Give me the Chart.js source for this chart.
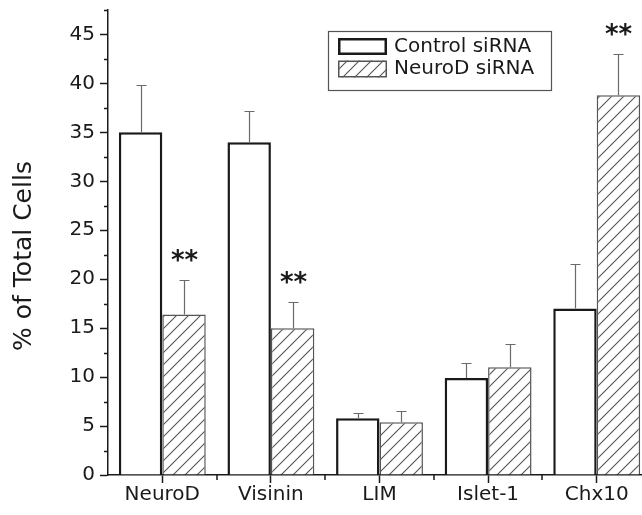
<!DOCTYPE html>
<html>
<head>
<meta charset="utf-8">
<script src="https://cdn.jsdelivr.net/npm/chart.js@4.4.0/dist/chart.umd.min.js"></script>
<style>
html,body{margin:0;padding:0;overflow:hidden;background:#fff;width:642px;height:515px;}
canvas{display:block;}
</style>
</head>
<body>
<canvas id="c" width="651" height="515"></canvas>
<script>
// ---- data ----
const categories = ['NeuroD', 'Visinin', 'LIM', 'Islet-1', 'Chx10'];
const seriesNames = ['Control siRNA', 'NeuroD siRNA'];
const controlValues = [35.0, 34.0, 5.8, 9.9, 17.0];
const controlErrors = [4.8, 3.2, 0.5, 1.5, 4.6];
const neurodValues = [16.4, 15.0, 5.4, 11.0, 38.8];
const neurodErrors = [3.5, 2.7, 1.1, 2.4, 4.2];
const neurodMarks = ['**', '**', '', '', '**'];
const yMin = 0, yMax = 47.5, yStep = 5;
const yTitle = '% of Total Cells';

const INK = '#1a1a1a';
const FONT = '"DejaVu Sans", sans-serif';

// hatch pattern
function makeHatch() {
  const n = 12;
  const t = document.createElement('canvas');
  t.width = n; t.height = n;
  const g = t.getContext('2d');
  g.fillStyle = '#fff'; g.fillRect(0, 0, n, n);
  g.strokeStyle = '#555'; g.lineWidth = 1.1;
  g.beginPath();
  g.moveTo(0, n); g.lineTo(n, 0);
  g.moveTo(-n / 2, n / 2); g.lineTo(n / 2, -n / 2);
  g.moveTo(n / 2, n * 1.5); g.lineTo(n * 1.5, n / 2);
  g.stroke();
  return document.getElementById('c').getContext('2d').createPattern(t, 'repeat');
}
const hatch = makeHatch();

const errorArrays = [controlErrors, neurodErrors];
const markArrays = [null, neurodMarks];

const decorPlugin = {
  id: 'decor',
  afterDatasetsDraw(chart) {
    const ctx = chart.ctx;
    const y = chart.scales.y;
    ctx.save();
    chart.data.datasets.forEach((ds, di) => {
      const meta = chart.getDatasetMeta(di);
      meta.data.forEach((bar, i) => {
        const v = ds.data[i], e = errorArrays[di][i];
        const top = y.getPixelForValue(v);
        const et = Math.round(y.getPixelForValue(v + e)) + 0.5;
        const bx = Math.round(bar.x) + 0.5;
        ctx.strokeStyle = '#6a6a6a'; ctx.lineWidth = 1.2;
        ctx.beginPath();
        ctx.moveTo(bx, top); ctx.lineTo(bx, et);
        ctx.moveTo(bx - 5, et); ctx.lineTo(bx + 5, et);
        ctx.stroke();
        const marks = markArrays[di];
        if (marks && marks[i]) {
          ctx.fillStyle = INK;
          ctx.font = 'bold 26px ' + FONT;
          ctx.textAlign = 'center';
          ctx.textBaseline = 'alphabetic';
          ctx.fillText(marks[i], bx, et - 12);
        }
      });
    });
    ctx.restore();
  },
  afterDraw(chart) {
    const ctx = chart.ctx;
    const y = chart.scales.y, x = chart.scales.x;
    const a = chart.chartArea;
    ctx.save();
    ctx.strokeStyle = INK; ctx.lineWidth = 1.5;
    // minor y ticks
    ctx.beginPath();
    for (let v = yMin + yStep / 2; v <= yMax + 1e-6; v += yStep) {
      const py = Math.round(y.getPixelForValue(v)) + 0.5;
      ctx.moveTo(a.left - 4, py); ctx.lineTo(a.left, py);
    }
    // minor x ticks between categories
    for (let i = 0; i < categories.length; i++) {
      const p0 = x.getPixelForValue(i);
      const p1 = i + 1 < categories.length ? x.getPixelForValue(i + 1) : p0 + (p0 - x.getPixelForValue(i - 1));
      const px = Math.round((p0 + p1) / 2);
      ctx.moveTo(px, a.bottom); ctx.lineTo(px, a.bottom + 5);
    }
    ctx.stroke();
    // y title
    ctx.fillStyle = INK;
    ctx.font = '25px ' + FONT;
    ctx.translate(24, 256);
    ctx.rotate(-Math.PI / 2);
    ctx.textAlign = 'center'; ctx.textBaseline = 'middle';
    ctx.fillText(yTitle, 0, 0);
    ctx.restore();

    // legend
    ctx.save();
    ctx.strokeStyle = '#555'; ctx.lineWidth = 1.2;
    ctx.strokeRect(328.5, 31.5, 223, 59);
    chart.data.datasets.forEach((ds, di) => {
      const sy = 38 + di * 22.5;
      ctx.fillStyle = ds.backgroundColor;
      ctx.fillRect(338, sy, 49, 17);
      ctx.strokeStyle = ds.borderColor; ctx.lineWidth = ds.borderWidth;
      const off = ds.borderWidth / 2;
      ctx.strokeRect(338 + off, sy + off, 49 - ds.borderWidth, 17 - ds.borderWidth);
      ctx.fillStyle = INK;
      ctx.font = '20px ' + FONT;
      ctx.textAlign = 'left'; ctx.textBaseline = 'middle';
      ctx.fillText(ds.label, 394, sy + 8.5);
    });
    ctx.restore();
  }
};

new Chart(document.getElementById('c'), {
  type: 'bar',
  data: {
    labels: categories,
    datasets: [
      { label: seriesNames[0], data: controlValues, backgroundColor: '#ffffff', borderColor: INK, borderWidth: 2.5, borderSkipped: 'start' },
      { label: seriesNames[1], data: neurodValues, backgroundColor: hatch, borderColor: '#555', borderWidth: 1.5, borderSkipped: 'start' }
    ]
  },
  options: {
    responsive: false,
    animation: false,
    devicePixelRatio: 1,
    layout: { padding: { top: 10, left: 0, right: 0, bottom: 0 } },
    datasets: { bar: { categoryPercentage: 0.8, barPercentage: 1.0 } },
    plugins: { legend: { display: false }, tooltip: { enabled: false } },
    scales: {
      x: {
        z: 1,
        offset: true,
        grid: { offset: false, drawOnChartArea: false, tickLength: 8, tickColor: INK, tickWidth: 1.5 },
        border: { color: INK, width: 1.5 },
        ticks: { color: INK, font: { family: FONT, size: 20 }, padding: 0, maxRotation: 0 },
        afterFit(s) { s.height = 40; s.paddingLeft = 0; s.paddingRight = 0; }
      },
      y: {
        z: 1,
        min: yMin, max: yMax,
        grid: { drawOnChartArea: false, tickLength: 8, tickColor: INK, tickWidth: 1.5 },
        border: { color: INK, width: 1.5 },
        ticks: { stepSize: yStep, includeBounds: false, color: INK, font: { family: FONT, size: 20 }, padding: 5 },
        afterFit(s) { s.width = 108; s.paddingTop = 0; s.paddingBottom = 0; }
      }
    }
  },
  plugins: [decorPlugin]
});
</script>
</body>
</html>
